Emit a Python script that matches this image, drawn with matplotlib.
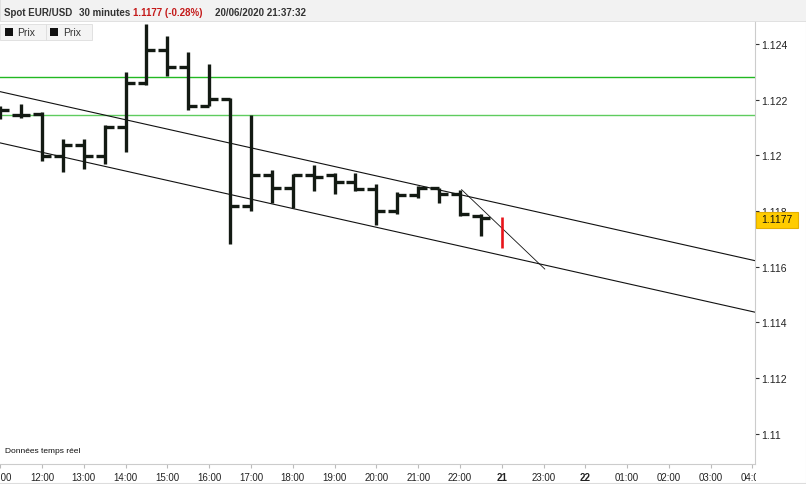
import matplotlib.pyplot as plt
from matplotlib.patches import Rectangle
from matplotlib.lines import Line2D
from matplotlib.transforms import Bbox, TransformedBbox

plt.rcParams['font.family'] = ['Liberation Sans', 'DejaVu Sans']

# 30 minute bars, hour of day (24 = midnight of next slot)
hours = [11.0, 11.5, 12.0, 12.5, 13.0, 13.5, 14.0, 14.5, 15.0, 15.5, 16.0, 16.5,
         17.0, 17.5, 18.0, 18.5, 19.0, 19.5, 20.0, 20.5, 21.0, 21.5, 22.0, 22.5]
opens = [1.12150, 1.12146, 1.12149, 1.11998, 1.12038, 1.11998, 1.12102, 1.12260,
         1.12380, 1.12319, 1.12179, 1.12203, 1.11819, 1.11930, 1.11883, 1.11930,
         1.11930, 1.11906, 1.11879, 1.11799, 1.11858, 1.11883, 1.11861, 1.11784]
highs = [1.12177, 1.12185, 1.12155, 1.12059, 1.12059, 1.12109, 1.12300, 1.12472,
         1.12429, 1.12371, 1.12328, 1.12206, 1.12145, 1.11948, 1.11933, 1.11966,
         1.11936, 1.11936, 1.11897, 1.11870, 1.11890, 1.11883, 1.11876, 1.11790]
lows = [1.12132, 1.12133, 1.11981, 1.11940, 1.11951, 1.11969, 1.12012, 1.12253,
        1.12285, 1.12164, 1.12179, 1.11682, 1.11801, 1.11829, 1.11811, 1.11873,
        1.11861, 1.11873, 1.11750, 1.11790, 1.11847, 1.11829, 1.11784, 1.11711]
closes = [1.12164, 1.12146, 1.11999, 1.12038, 1.11999, 1.12103, 1.12260, 1.12380,
          1.12319, 1.12179, 1.12203, 1.11819, 1.11930, 1.11883, 1.11930, 1.11922,
          1.11906, 1.11879, 1.11799, 1.11858, 1.11883, 1.11861, 1.11790, 1.11774]

# current (live) bar
live_hour = 23.0
live_high = 1.11779
live_low = 1.11668
last_price = 1.1177

# drawn objects
levels = [1.12280, 1.12146]
channel_x = [10.995, 29.06]
channel_top = [1.12229, 1.11622]
channel_bottom = [1.12045, 1.11437]
diag_x = [22.04, 24.03]
diag_y = [1.11877, 1.11592]

xtick_pos = list(range(11, 30))
xtick_labels = ['11:00', '12:00', '13:00', '14:00', '15:00', '16:00', '17:00', '18:00',
                '19:00', '20:00', '21:00', '22:00', '21', '23:00', '22', '01:00',
                '02:00', '03:00', '04:00']
ytick_pos = [1.11, 1.112, 1.114, 1.116, 1.118, 1.12, 1.122, 1.124]
ytick_labels = ['1.11', '1.112', '1.114', '1.116', '1.118', '1.12', '1.122', '1.124']

W, H = 806, 485


def fx(px):
    return px / W


def fy(py):
    return 1 - py / H


fig = plt.figure(figsize=(W / 100, H / 100), dpi=100)
ax = fig.add_axes([0, fy(465), fx(755), fy(22) - fy(465)])

bar_col = '#131a13'
w = 0.215
ax.vlines(hours, lows, highs, color=bar_col, lw=2.4, zorder=3)
ax.hlines(opens, [h - w for h in hours], hours, color=bar_col, lw=2.4, zorder=3)
ax.hlines(closes, hours, [h + w for h in hours], color=bar_col, lw=2.4, zorder=3)
ax.vlines([live_hour], [live_low], [live_high], color='#e8141b', lw=1.9, zorder=3)

ax.axhline(levels[0], color='#22b822', lw=1.0, zorder=2)
ax.axhline(levels[1], color='#5fcc5f', lw=1.0, zorder=2)
ax.plot(channel_x, channel_top, color='#111111', lw=0.8, zorder=2)
ax.plot(channel_x, channel_bottom, color='#111111', lw=0.8, zorder=2)
ax.plot(diag_x, diag_y, color='#111111', lw=0.6, zorder=2)

ax.set_xlim(10.995, 29.06)
ax.set_ylim(1.108919, 1.124826)

ax.set_xticks(xtick_pos)
ax.set_xticklabels(xtick_labels)
ax.yaxis.tick_right()
ax.set_yticks(ytick_pos)
ax.set_yticklabels(ytick_labels)
ax.tick_params(axis='x', length=3, color='#bbbbbb', labelsize=7, labelcolor='#222222', pad=3)
ax.tick_params(axis='y', length=3, width=0.8, color='#333333', labelsize=7.5,
               labelcolor='#222222', pad=1.5)

clip = TransformedBbox(Bbox([[0, 0], [fx(756), 1]]), fig.transFigure)
for t in ax.xaxis.get_major_ticks():
    t.label1.set_clip_box(clip)
    t.label1.set_clip_on(True)
    if t.label1.get_text() in ('21', '22'):
        t.label1.set_fontweight('bold')

for s in ['top', 'left']:
    ax.spines[s].set_visible(False)
for s in ['bottom', 'right']:
    ax.spines[s].set_color('#cccccc')
    ax.spines[s].set_linewidth(0.8)

# header
fig.add_artist(Rectangle((0, fy(22)), 1, 22 / H, transform=fig.transFigure,
                         facecolor='#f2f2f2', edgecolor='#dddddd', lw=0.6, zorder=1))
hy = fy(13)
fig.text(fx(4), hy, 'Spot EUR/USD', fontsize=7, fontweight='bold', color='#333333', va='center')
fig.text(fx(79), hy, '30 minutes', fontsize=7, fontweight='bold', color='#333333', va='center')
fig.text(fx(133), hy, '1.1177 (-0.28%)', fontsize=7, fontweight='bold', color='#c41a1a', va='center')
fig.text(fx(215), hy, '20/06/2020 21:37:32', fontsize=7, fontweight='bold', color='#333333', va='center')

# legend boxes
for x0 in [0, 46]:
    fig.add_artist(Rectangle((fx(x0), fy(41)), fx(45.5), 16 / H, transform=fig.transFigure,
                             facecolor='#f4f4f4', edgecolor='#dddddd', lw=0.6, zorder=4))
    fig.add_artist(Rectangle((fx(x0 + 4.5), fy(37)), fx(8), 8 / H, transform=fig.transFigure,
                             facecolor='#111111', edgecolor='none', zorder=5))
    fig.text(fx(x0 + 17), fy(33), 'Prix', fontsize=7.5, color='#333333', va='center', zorder=5)

# last price box
fig.add_artist(Rectangle((fx(756), fy(228.5)), fx(41.5), 16 / H, transform=fig.transFigure,
                         facecolor='#ffcc00', edgecolor='#e5b000', lw=0.8, zorder=4))
fig.text(fx(776.5), fy(220.5), f'{last_price:.4f}', fontsize=7.5, color='#111111',
         ha='center', va='center', zorder=5)

fig.text(fx(5), fy(452), 'Données temps réel', fontsize=6, color='#111111', va='center')

fig.add_artist(Line2D([fx(805.5), fx(805.5)], [0, fy(22)], transform=fig.transFigure,
                      color='#dddddd', lw=0.8))
fig.add_artist(Line2D([0, 1], [fy(484), fy(484)], transform=fig.transFigure,
                      color='#dddddd', lw=0.8))

fig.savefig('out.png', dpi=100)
